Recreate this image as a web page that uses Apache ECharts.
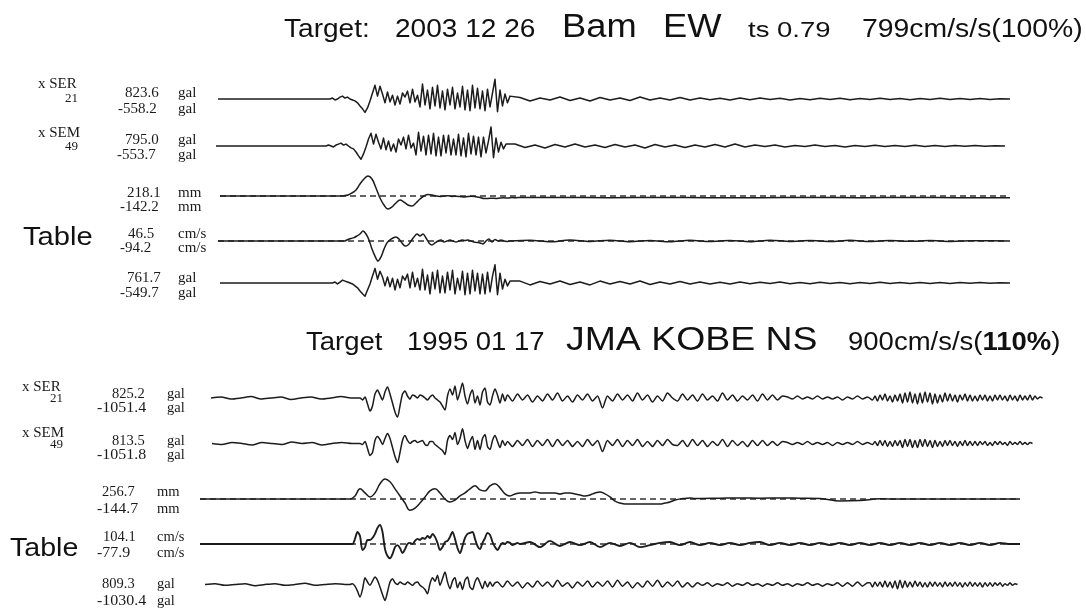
<!DOCTYPE html>
<html><head><meta charset="utf-8">
<script src="https://cdn.jsdelivr.net/npm/echarts@6/dist/echarts.min.js"></script>
<style>html,body{margin:0;padding:0;background:#fff}#c{width:1086px;height:610px}</style>
</head><body><div id="c"></div>
<script>
// ---------- 2003 12 26 Bam EW (top group) ----------
// each record: [start time s, sample step s] for pre-event / strong motion / coda parts
const bamSer21Seg = [[0.8, 11.2], [12.0, 0.25], [31.0, 1.0]];
const bamSer21Pre = [0, 0];
const bamSer21Main = [0,40,-40,0,80,120,40,80,0,-40,-80,-160,-290,-410,-558.2,-370,-80,250,570,120,530,210,-160,290,-120,160,-250,120,-210,250,80,330,-160,410,-120,160,-330,620,-250,370,-410,490,-290,570,-370,330,-450,410,-250,490,-410,250,-330,530,-450,370,-490,570,-370,450,-410,330,-490,410,-330,250,823.6,-530,370,-290,210,-160,120];
const bamSer21Tail = [60,-80,40,-40,80,-60,40,-80,60,-40,40,-60,80,-40,40,-40,60,-40,40,-30,30,-40,40,-30,40,-20,30,-40,20,-30,30,-20,30,-30,20,-20,30,-20,20,-30,20,-20,30,-20,20,-20,20,-20,10,0];

const bamSem49Seg = [[0.6, 11.0], [11.6, 0.25], [30.5, 1.0]];
const bamSem49Pre = [0, 0];
const bamSem49Main = [0,40,0,-40,40,80,120,40,80,0,-80,-120,-250,-410,-553.7,-330,-40,290,530,80,490,160,-120,330,-160,210,-210,80,-250,290,40,370,-120,450,-80,120,-370,570,-210,410,-370,450,-330,530,-410,370,-410,450,-290,450,-370,290,-370,490,-410,330,-450,530,-330,410,-370,370,-450,370,-290,210,795.0,-490,330,-250,160,-120,80];
const bamSem49Tail = [80,-60,40,-80,60,-40,80,-40,40,-60,60,-40,40,-80,60,-40,40,-60,40,-40,60,-40,80,-40,40,-20,40,-40,20,-20,40,-20,20,-40,20,-20,30,-20,20,-20,30,-20,20,-20,20,-10,20,-10,10,0];

const bamDispSeg = [[1.0, 12.0], [13.0, 0.4], [35.0, 5.0]];
const bamDispPre = [0, 0];
const bamDispMain = [0,3,11,33,66,131,185,218.1,185,87,-22,-98,-142.2,-120,-76,-44,-66,-98,-109,-76,-33,0,16,11,0,-5,0,3,-5,-2,-5,-11,-5,-3,-9,-16,-27,-27,-24,-26,-22,-20,-22,-17,-19,-16];
const bamDispTail = [-17,-18,-17,-18,-18,-17,-18,-17,-18,-18];
const bamDispZero = [[1.0, 0], [80.0, 0]];

const bamVelSeg = [[0.8, 12.7], [13.5, 0.3], [32.0, 2.0]];
const bamVelPre = [0, 0];
const bamVelMain = [2,7,12,16,24,33,46.5,33,5,-38,-71,-94.2,-75,-38,-9,5,14,19,9,-9,-24,-19,0,19,33,24,33,14,-9,-19,-9,0,5,-5,0,5,0,-5,0,5,2,5,0,-5,-7,-9,-14,0,9,-5,7,0,5,0,-2,0];
const bamVelTail = [3,-4,5,-2,4,-3,2,-4,3,-2,2,-3,4,-2,2,-2,3,-2,2,-1,2,-2,1,1,0];
const bamVelZero = [[0.8, 0], [79.8, 0]];

const bamAccSeg = [[1.0, 11.0], [12.0, 0.25], [31.0, 1.0]];
const bamAccPre = [0, 0];
const bamAccMain = [0,0,40,-40,40,120,80,40,0,-40,-120,-200,-330,-450,-549.7,-290,-40,290,610,160,490,250,-120,250,-160,200,-290,160,-200,290,120,370,-200,450,-160,200,-290,570,-290,330,-450,450,-250,530,-410,290,-410,450,-290,530,-450,200,-290,490,-490,410,-450,530,-330,410,-450,370,-450,450,-370,290,761.7,-490,410,-250,160,-120,80];
const bamAccTail = [80,-80,60,-40,80,-60,40,-80,80,-40,60,-40,80,-60,40,-40,60,-40,40,-40,30,-40,40,-30,30,-20,40,-30,20,-30,30,-20,20,-30,20,-20,30,-20,20,-20,20,-20,20,-20,20,-10,20,-10,10,0];

// ---------- 1995 01 17 JMA KOBE NS (bottom group) ----------
const kobeSer21Seg = [[1.6, 1.0], [16.5, 0.25], [31.25, 0.5], [68.0, 0.25]];
const kobeSer21Pre = [0,55,-55,0,80,-55,0,55,-80,0,55,-55,0,80,0];
const kobeSer21Main = [0,-110,55,-330,-715,-440,220,440,165,-110,330,605,220,-275,-770,-1051.4,-440,220,385,110,-55,165,110,0,165,110,0,-110,55,165,0,-110,-220,-440,-660,110,495,165,660,-110,330,825.2,110,-330,165,440,-275,110,-385,330,550,-220,-385,110,495,165,-275,220,-165];
const kobeSer21Mid = [165,-165,220,-110,165,-220,110,-165,220,-110,275,-165,110,-220,165,-110,220,-165,110,-550,110,-165,220,-110,165,-165,275,-110,165,-220,110,-165,275,0,-165,220,-110,165,-165,220,-110,110,-165,275,-110,165,-165,110,-110,165,-165,220,-110,165,-110,110,55,-55,110,-55,55,-55,110,-55,55,-55,55,-110,55,-55,110,-55,55,-110];
const kobeSer21Coda = [110,-165,165,-110,220,-165,110,-220,165,-165,220,-275,275,-220,330,-275,220,-330,275,-275,330,-220,275,-330,220,-275,165,-220,275,-165,220,-165,165,-220,165,-110,220,-165,165,-165,110,-165,165,-110,165,-165,110,-165,165,-110,165,-110,110,-165,165,-110,110,-165,165,-110,110,-110,165,-110,110,-55,55,0];

const kobeSem49Seg = [[1.7, 1.0], [16.5, 0.25], [31.25, 0.5], [68.0, 0.25]];
const kobeSem49Pre = [0,-55,55,0,-80,55,0,-55,80,0,55,-80,0,55,0];
const kobeSem49Main = [0,-55,110,-275,-660,-495,165,385,220,-55,275,550,275,-220,-715,-1051.8,-495,165,440,165,0,110,165,55,110,165,-55,-110,110,110,-55,-165,-275,-385,-605,165,440,220,605,-55,275,813.5,165,-275,110,385,-330,165,-330,275,495,-165,-330,165,440,110,-220,165,-110];
const kobeSem49Mid = [110,-165,165,-110,220,-165,165,-110,220,-165,220,-110,165,-165,110,-165,220,-110,165,-440,165,-110,220,-165,165,-110,220,-165,110,-165,165,-110,220,-55,-110,165,-165,220,-110,165,-165,110,-110,220,-165,165,-110,110,-165,165,-110,165,-110,110,-110,110,55,-55,55,-55,110,-55,55,-55,55,-110,55,-55,55,-55,110,-55,55,-55];
const kobeSem49Coda = [110,-110,165,-110,165,-165,110,-165,165,-110,165,-220,220,-165,220,-220,165,-220,220,-165,220,-165,165,-220,165,-165,110,-165,165,-110,165,-110,110,-165,110,-110,165,-110,110,-110,110,-110,110,-55,110,-110,55,-110,110,-55,110,-55,55,-110,110,-55,55,-55,110,-55,55,-55,55,0];

const kobeDispSeg = [[0.5, 15.0], [15.5, 0.5], [52.5, 2.0]];
const kobeDispPre = [0, 0];
const kobeDispMain = [0,39,130,78,26,78,195,256.7,221,130,39,-52,-144.7,-117,-52,26,104,130,78,0,-39,-13,39,78,130,169,117,104,169,195,143,65,39,65,78,78,78,91,78,78,78,78,65,78,78,65,52,39,52,78,91,65,26,-26,-52,-65,-65,-65,-65,-65,-65,-65,-65,-52,-39,-13,0,7,13,7,7];
const kobeDispTail = [10,13,10,13,10,6,-26,-20,3,0,0,0,0,0,0,0];
const kobeDispZero = [[0.5, 0], [82.5, 0]];

const kobeVelSeg = [[0.5, 15.0], [15.5, 0.25], [33.5, 1.0]];
const kobeVelPre = [0, 0];
const kobeVelMain = [0,0,28,66,44,-33,-17,22,22,33,55,88,104.1,66,-28,-66,-77.9,-55,-17,-6,-22,-50,-28,0,6,0,17,28,22,33,28,44,33,55,39,6,-33,-17,11,17,39,66,28,-22,-50,-11,33,55,61,66,28,-11,-28,6,33,61,50,11,-17,-33,-11,6,0,11,6,-6,0,6,0];
const kobeVelTail = [11,-17,17,-11,11,-6,11,-17,6,-11,6,-17,-6,6,11,-6,11,-6,6,-6,6,-6,6,11,-6,6,-6,6,-6,6,-6,6,-6,6,-6,6,-6,6,-6,6,-6,6,-6,6,-6,6,-6,6,0,0];
const kobeVelZero = [[0.5, 0], [82.5, 0]];

const kobeAccSeg = [[1.0, 1.0], [15.5, 0.25], [30.25, 0.5], [67.5, 0.25]];
const kobeAccPre = [0,55,-55,0,55,-80,0,55,-55,0,80,-55,0,55,0];
const kobeAccMain = [0,54,-108,-432,-810,-324,432,162,-54,216,486,270,-162,-648,-1030.4,-486,162,378,108,0,162,54,0,162,54,-54,108,162,-54,-162,-324,-594,54,432,216,594,-54,378,809.3,162,-270,216,432,-216,162,-324,270,486,-162,-324,162,432,108,-270,216,-162,162,-108,108];
const kobeAccMid = [165,-165,220,-110,165,-220,110,-165,220,-110,165,-165,275,-110,110,-220,165,-110,220,-165,165,-110,220,-165,275,-110,165,-220,110,-165,220,-110,275,-165,165,-110,220,-165,110,-165,110,-55,110,-110,55,-55,110,-110,55,-55,110,-55,55,-110,55,-55,110,-55,55,-110,55,-55,110,-55,55,-110,55,-55,110,-110,110,-110,165,-110,110];
const kobeAccCoda = [110,-165,165,-110,165,-165,220,-165,165,-220,220,-275,275,-220,220,-165,165,-165,220,-110,165,-165,110,-165,165,-110,165,-110,110,-165,165,-110,110,-110,165,-110,110,-165,110,-110,165,-110,110,-110,110,-165,110,-110,110,-110,110,-55,110,-110,55,-55,110,-55,55,0];

// ---------- texts ----------
const title1Parts = ['Target:', '2003 12 26', 'Bam', 'EW', 'ts 0.79', '799cm/s/s(100%)'];
const title2Parts = ['Target', '1995 01 17', 'JMA KOBE NS', '900cm/s/s(', '110%', ')'];
const bamPeaks = [['823.6', '-558.2', 'gal'], ['795.0', '-553.7', 'gal'], ['218.1', '-142.2', 'mm'], ['46.5', '-94.2', 'cm/s'], ['761.7', '-549.7', 'gal']];
const kobePeaks = [['825.2', '-1051.4', 'gal'], ['813.5', '-1051.8', 'gal'], ['256.7', '-144.7', 'mm'], ['104.1', '-77.9', 'cm/s'], ['809.3', '-1030.4', 'gal']];
const sensorNames = [['x SER', '21'], ['x SEM', '49']];
const tableLabel = 'Table';

// ---------- build ----------
function build(seg, parts) {
  const pts = [];
  parts.forEach((vals, i) => {
    const t0 = seg[i][0], dt = seg[i][1];
    vals.forEach((v, k) => pts.push([Math.round((t0 + k * dt) * 1000) / 1000, v]));
  });
  return pts;
}

const traces = [
  { data: build(bamSer21Seg, [bamSer21Pre, bamSer21Main, bamSer21Tail]), base: 99, range: 1250, top: true },
  { data: build(bamSem49Seg, [bamSem49Pre, bamSem49Main, bamSem49Tail]), base: 146, range: 1250, top: true },
  { data: build(bamDispSeg, [bamDispPre, bamDispMain, bamDispTail]), base: 196, range: 327, top: true, zero: bamDispZero, smooth: 0.4 },
  { data: build(bamVelSeg, [bamVelPre, bamVelMain, bamVelTail]), base: 241, range: 141, top: true, zero: bamVelZero, smooth: 0.3 },
  { data: build(bamAccSeg, [bamAccPre, bamAccMain, bamAccTail]), base: 283, range: 1250, top: true },
  { data: build(kobeSer21Seg, [kobeSer21Pre, kobeSer21Main, kobeSer21Mid, kobeSer21Coda]), base: 398, range: 1651, smooth: 0.25 },
  { data: build(kobeSem49Seg, [kobeSem49Pre, kobeSem49Main, kobeSem49Mid, kobeSem49Coda]), base: 443.5, range: 1651, smooth: 0.25 },
  { data: build(kobeDispSeg, [kobeDispPre, kobeDispMain, kobeDispTail]), base: 499, range: 385, zero: kobeDispZero, smooth: 0.4 },
  { data: build(kobeVelSeg, [kobeVelPre, kobeVelMain, kobeVelTail]), base: 544, range: 164, zero: kobeVelZero, w: 1.9, smooth: 0.3 },
  { data: build(kobeAccSeg, [kobeAccPre, kobeAccMain, kobeAccMid, kobeAccCoda]), base: 589, range: 1651, smooth: 0.25 }
];

const grid = [], xAxis = [], yAxis = [], series = [];
traces.forEach((tr, i) => {
  grid.push({ left: tr.top ? 210 : 195, width: tr.top ? 810 : 860, top: tr.base - 30, height: 60 });
  xAxis.push({ type: 'value', gridIndex: i, min: 0, max: tr.top ? 81 : 86, show: false });
  yAxis.push({ type: 'value', gridIndex: i, min: -tr.range, max: tr.range, show: false });
  if (tr.zero) {
    series.push({ type: 'line', xAxisIndex: i, yAxisIndex: i, data: tr.zero, showSymbol: false, silent: true, z: 1,
      lineStyle: { color: '#333', width: 1.3, type: [6, 4] } });
  }
  series.push({ type: 'line', xAxisIndex: i, yAxisIndex: i, data: tr.data, showSymbol: false, z: 2, clip: false,
    smooth: tr.smooth || false,
    lineStyle: { color: '#1c1c1c', width: tr.w || 1.5, join: 'round' } });
});

const SANS = '"Liberation Sans", Arial, sans-serif';
const SERIF = '"Liberation Serif", "Times New Roman", serif';
function txt(text, x, y, size, opts) {
  opts = opts || {};
  const align = opts.align || 'left';
  return { type: 'text', x: x, y: y, scaleX: opts.sx || 1, silent: true, style: {
    text: text, font: (opts.weight || 'normal') + ' ' + size + 'px ' + (opts.family || SANS),
    fill: opts.color || '#111', align: align, textAlign: align, verticalAlign: 'middle', textVerticalAlign: 'middle' } };
}

const graphics = [];
// titles (the source picture is slightly stretched horizontally)
graphics.push(txt(title1Parts[0], 284, 30, 25.5, { sx: 1.1 }));
graphics.push(txt(title1Parts[1], 395, 30, 25.5, { sx: 1.1 }));
graphics.push(txt(title1Parts[2], 562, 27.5, 33, { sx: 1.1 }));
graphics.push(txt(title1Parts[3], 663, 27.5, 33, { sx: 1.1 }));
graphics.push(txt(title1Parts[4], 748, 31, 22, { sx: 1.25 }));
graphics.push(txt(title1Parts[5], 862, 30, 25.8, { sx: 1.1 }));
graphics.push(txt(title2Parts[0], 306, 343.5, 25, { sx: 1.1 }));
graphics.push(txt(title2Parts[1], 407, 343.5, 25, { sx: 1.1 }));
graphics.push(txt(title2Parts[2], 566, 340.5, 34, { sx: 1.1 }));
graphics.push({ type: 'text', x: 848, y: 343.5, scaleX: 1.1, silent: true, style: {
  text: '{n|' + title2Parts[3] + '}{b|' + title2Parts[4] + '}{n|' + title2Parts[5] + '}',
  fill: '#111', verticalAlign: 'middle', textVerticalAlign: 'middle', align: 'left', textAlign: 'left',
  rich: { n: { font: 'normal 25px ' + SANS, fill: '#111' }, b: { font: 'bold 25px ' + SANS, fill: '#111' } } } });

// left labels, top group
const topNumX = [[125, 118], [125, 117], [127, 120], [128, 120], [127, 120]];
const topNumY = [[93, 109], [140, 155], [193, 207], [234, 248], [278, 293]];
bamPeaks.forEach((p, i) => {
  graphics.push(txt(p[0], topNumX[i][0], topNumY[i][0], 15, { family: SERIF, color: '#1a1a1a' }));
  graphics.push(txt(p[1], topNumX[i][1], topNumY[i][1], 15, { family: SERIF, color: '#1a1a1a' }));
  graphics.push(txt(p[2], 178, topNumY[i][0], 15, { family: SERIF, color: '#1a1a1a' }));
  graphics.push(txt(p[2], 178, topNumY[i][1], 15, { family: SERIF, color: '#1a1a1a' }));
});
const botNumX = [[112, 97], [112, 97], [102, 97], [103, 97], [102, 97]];
const botNumY = [[394, 408], [441, 455], [492, 509], [537, 553], [584, 601]];
const botUnitX = [167, 167, 157, 157, 157];
kobePeaks.forEach((p, i) => {
  graphics.push(txt(p[0], botNumX[i][0], botNumY[i][0], 14.5, { family: SERIF, color: '#1a1a1a' }));
  graphics.push(txt(p[1], botNumX[i][1], botNumY[i][1], 14.5, { family: SERIF, color: '#1a1a1a', sx: 1.1 }));
  graphics.push(txt(p[2], botUnitX[i], botNumY[i][0], 14.5, { family: SERIF, color: '#1a1a1a' }));
  graphics.push(txt(p[2], botUnitX[i], botNumY[i][1], 14.5, { family: SERIF, color: '#1a1a1a' }));
});
// sensor names
graphics.push(txt(sensorNames[0][0], 38, 84, 15, { family: SERIF, color: '#1a1a1a' }));
graphics.push(txt(sensorNames[0][1], 78, 99, 13, { family: SERIF, color: '#1a1a1a', align: 'right' }));
graphics.push(txt(sensorNames[1][0], 38, 133, 15, { family: SERIF, color: '#1a1a1a' }));
graphics.push(txt(sensorNames[1][1], 78, 147, 13, { family: SERIF, color: '#1a1a1a', align: 'right' }));
graphics.push(txt(sensorNames[0][0], 22, 387, 15, { family: SERIF, color: '#1a1a1a' }));
graphics.push(txt(sensorNames[0][1], 63, 399, 13, { family: SERIF, color: '#1a1a1a', align: 'right' }));
graphics.push(txt(sensorNames[1][0], 22, 433, 15, { family: SERIF, color: '#1a1a1a' }));
graphics.push(txt(sensorNames[1][1], 63, 445, 13, { family: SERIF, color: '#1a1a1a', align: 'right' }));
graphics.push(txt(tableLabel, 23, 237.5, 26, { sx: 1.12 }));
graphics.push(txt(tableLabel, 10, 548.5, 26, { sx: 1.1 }));

const chart = echarts.init(document.getElementById('c'), null, { renderer: 'canvas' });
chart.setOption({
  backgroundColor: '#ffffff',
  animation: false,
  grid: grid, xAxis: xAxis, yAxis: yAxis, series: series,
  graphic: { elements: graphics }
});
</script></body></html>
